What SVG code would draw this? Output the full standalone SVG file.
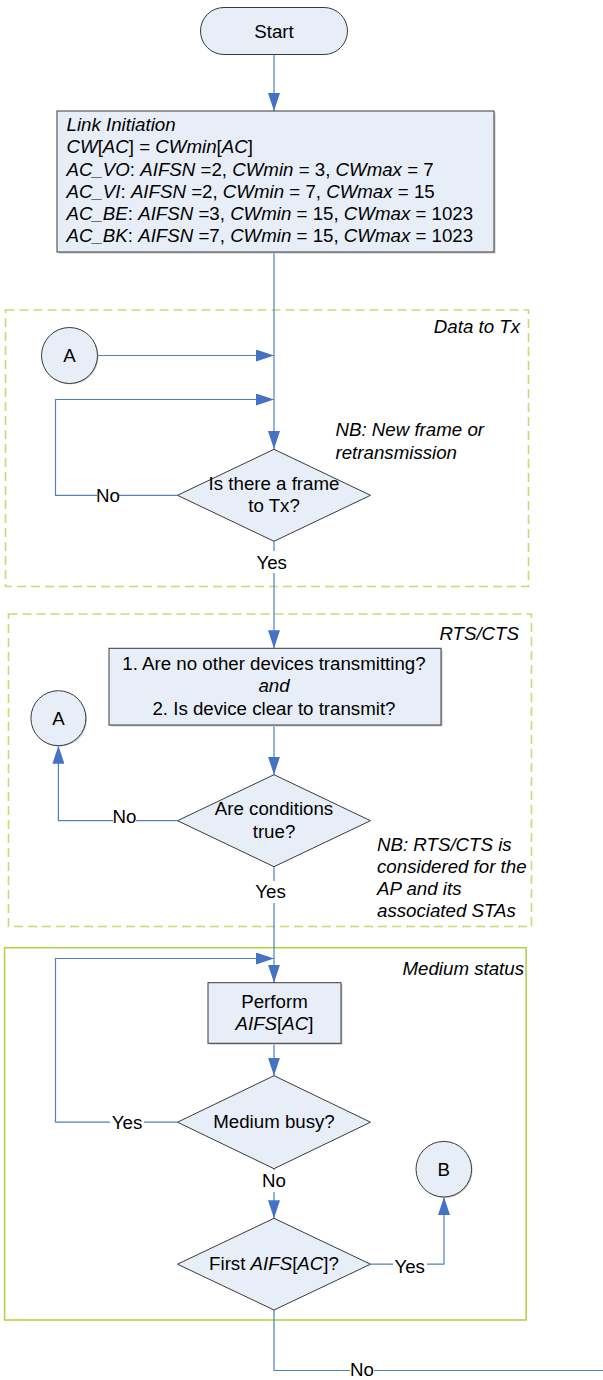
<svg xmlns="http://www.w3.org/2000/svg" width="603" height="1380" viewBox="0 0 603 1380">
<style>
text{font-family:"Liberation Sans",Arial,sans-serif;font-size:18.7px;fill:#000}
.i{font-style:italic}
.c{text-anchor:middle}
.e{text-anchor:end}
.shape{fill:#e8eef7;stroke:#3a3a3a;stroke-width:1}
.shadow{fill:#c8c8c8}
.con{fill:none;stroke:#4f81bd;stroke-width:1.2}
.lbl{fill:#fff}
.grpd{fill:none;stroke:#c6dc72;stroke-width:1.6;stroke-dasharray:9,5}
.grps{fill:none;stroke:#b2d24a;stroke-width:1.6}
</style>
<defs>
<marker id="arr" markerUnits="userSpaceOnUse" markerWidth="18" markerHeight="12" refX="18" refY="6" orient="auto">
<path d="M0,0 L18,6 L0,12 z" fill="#4472c4"/>
</marker>
</defs>

<g id="groups">
<rect class="grpd" x="5.5" y="310" width="523" height="276.5"/>
<text class="i e" x="520" y="333">Data to Tx</text>
<rect class="grpd" x="8.5" y="614" width="523" height="312.5"/>
<text class="i e" x="519" y="639.5">RTS/CTS</text>
<rect class="grps" x="4.6" y="947.7" width="521.5" height="372.3"/>
<text class="i e" x="524" y="974.5">Medium status</text>
</g>

<g id="connectors">
<path class="con" d="M274,54.5 V111" marker-end="url(#arr)"/>
<path class="con" d="M274,252 V449" marker-end="url(#arr)"/>
<path class="con" d="M97.5,355.5 H274" marker-end="url(#arr)"/>
<path class="con" d="M177.5,495.3 H55.5 V399.5 H274" marker-end="url(#arr)"/>
<path class="con" d="M274,541.3 V648.3" marker-end="url(#arr)"/>
<path class="con" d="M274,725 V774.7" marker-end="url(#arr)"/>
<path class="con" d="M177.5,820.7 H58.4 V745.8" marker-end="url(#arr)"/>
<path class="con" d="M274,866.7 V982.7" marker-end="url(#arr)"/>
<path class="con" d="M177.5,1122.2 H55.5 V958.5 H274" marker-end="url(#arr)"/>
<path class="con" d="M274,1043.3 V1075.7" marker-end="url(#arr)"/>
<path class="con" d="M274,1168.7 V1218.3" marker-end="url(#arr)"/>
<path class="con" d="M370.5,1264.2 H444 V1197" marker-end="url(#arr)"/>
<path class="con" d="M274,1310 V1370.5 H603"/>
<rect class="lbl" x="97" y="484" width="22" height="22"/>
<text class="c" x="108" y="501.5">No</text>
<rect class="lbl" x="113" y="806" width="23" height="22"/>
<text class="c" x="124.5" y="823">No</text>
<rect class="lbl" x="110" y="1112" width="34" height="22"/>
<text class="c" x="127" y="1129">Yes</text>
<rect class="lbl" x="255" y="551" width="34" height="22"/>
<text class="c" x="271.7" y="568.5">Yes</text>
<rect class="lbl" x="254" y="881" width="34" height="22"/>
<text class="c" x="270.6" y="898">Yes</text>
<rect class="lbl" x="262" y="1170" width="24" height="22"/>
<text class="c" x="274" y="1187">No</text>
<rect class="lbl" x="393" y="1255" width="34" height="22"/>
<text class="c" x="409.7" y="1272.5">Yes</text>
<rect class="lbl" x="350" y="1359" width="24" height="20"/>
<text class="c" x="362" y="1376">No</text>
</g>

<g id="start">
<rect class="shape" x="200.5" y="7.5" width="147" height="47" rx="23.5"/>
<text class="c" x="274" y="37.5">Start</text>
</g>

<g id="link-init">
<rect class="shadow" x="58.5" y="112.5" width="437" height="141"/>
<rect class="shape" x="57" y="111" width="437" height="141"/>
<text x="66.5" y="131"><tspan class="i">Link Initiation</tspan></text>
<text x="66.5" y="153.3"><tspan class="i">CW</tspan>[<tspan class="i">AC</tspan>] = <tspan class="i">CWmin</tspan>[<tspan class="i">AC</tspan>]</text>
<text x="66.5" y="175.6"><tspan class="i">AC_VO</tspan>: <tspan class="i">AIFSN</tspan> =2, <tspan class="i">CWmin</tspan> = 3, <tspan class="i">CWmax</tspan> = 7</text>
<text x="66.5" y="197.8"><tspan class="i">AC_VI</tspan>: <tspan class="i">AIFSN</tspan> =2, <tspan class="i">CWmin</tspan> = 7, <tspan class="i">CWmax</tspan> = 15</text>
<text x="66.5" y="220"><tspan class="i">AC_BE</tspan>: <tspan class="i">AIFSN</tspan> =3, <tspan class="i">CWmin</tspan> = 15, <tspan class="i">CWmax</tspan> = 1023</text>
<text x="66.5" y="242.3"><tspan class="i">AC_BK</tspan>: <tspan class="i">AIFSN</tspan> =7, <tspan class="i">CWmin</tspan> = 15, <tspan class="i">CWmax</tspan> = 1023</text>
</g>

<g id="connector-a1">
<circle class="shadow" cx="70.5" cy="356.5" r="28"/>
<circle class="shape" cx="69.5" cy="355.5" r="28"/>
<text class="c" x="69.5" y="362">A</text>
</g>

<g id="frame-decision">
<polygon class="shape" points="274,449.3 370.5,495.3 274,541.3 177.5,495.3"/>
<text class="c" x="274" y="490">Is there a frame</text>
<text class="c" x="274" y="511.7">to Tx?</text>
</g>

<g id="note-1">
<text class="i" x="335.5" y="436">NB: New frame or</text>
<text class="i" x="335.5" y="459.3">retransmission</text>
</g>

<g id="rts-cts-box">
<rect class="shadow" x="110.5" y="649.5" width="332" height="77"/>
<rect class="shape" x="109" y="648.3" width="332" height="76.7"/>
<text class="c" x="274" y="670">1. Are no other devices transmitting?</text>
<text class="c i" x="274" y="691.7">and</text>
<text class="c" x="274" y="715">2. Is device clear to transmit?</text>
</g>

<g id="connector-a2">
<circle class="shadow" cx="59.4" cy="719.2" r="27.5"/>
<circle class="shape" cx="58.4" cy="718.2" r="27.5"/>
<text class="c" x="58.4" y="724.7">A</text>
</g>

<g id="conditions-decision">
<polygon class="shape" points="274,774.7 370.5,820.7 274,866.7 177.5,820.7"/>
<text class="c" x="274" y="815">Are conditions</text>
<text class="c" x="274" y="837.7">true?</text>
</g>

<g id="note-2">
<text class="i" x="377" y="850.7">NB: RTS/CTS is</text>
<text class="i" x="377" y="872.9">considered for the</text>
<text class="i" x="377" y="895.1">AP and its</text>
<text class="i" x="377" y="917.3">associated STAs</text>
</g>

<g id="perform-aifs">
<rect class="shadow" x="209.5" y="984" width="133" height="60.6"/>
<rect class="shape" x="208" y="982.7" width="133" height="60.6"/>
<text class="c" x="274.5" y="1007.7">Perform</text>
<text class="c" x="274.5" y="1030"><tspan class="i">AIFS</tspan>[<tspan class="i">AC</tspan>]</text>
</g>

<g id="medium-busy">
<polygon class="shape" points="274,1075.7 370.5,1122.2 274,1168.7 177.5,1122.2"/>
<text class="c" x="274" y="1128.3">Medium busy?</text>
</g>

<g id="connector-b">
<circle class="shadow" cx="444.8" cy="1170.2" r="27.8"/>
<circle class="shape" cx="443.8" cy="1169.2" r="27.8"/>
<text class="c" x="443.8" y="1175.7">B</text>
</g>

<g id="first-aifs">
<polygon class="shape" points="274,1218.3 370.5,1264.2 274,1310 177.5,1264.2"/>
<text class="c" x="274" y="1270">First <tspan class="i">AIFS</tspan>[<tspan class="i">AC</tspan>]?</text>
</g>
</svg>
